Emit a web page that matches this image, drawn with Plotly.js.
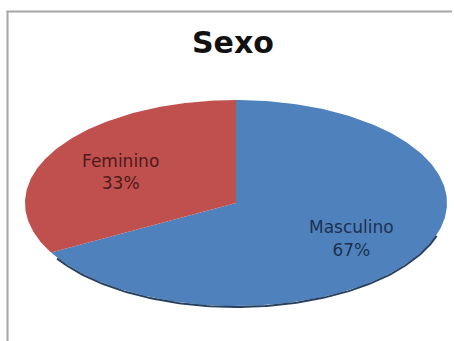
<!DOCTYPE html>
<html>
<head>
<meta charset="utf-8">
<script src="https://cdn.plot.ly/plotly-3.0.1.min.js"></script>
<style>
html,body{margin:0;padding:0;background:#fff;}
#chart{width:454px;height:341px;}
</style>
</head>
<body>
<div id="chart"></div>
<script>
// Data
var categories = ["Masculino", "Feminino"];
var values = [67, 33];
var colors = ["#4f81bd", "#c0504d"];
var textColors = ["#1d3150", "#4e1a19"];
var chartTitle = "Sexo";

// Geometry of the (tilted) pie drawn on pixel-like axes
var W = 454, H = 341;
var cx = 236, cy = 203, rx = 211, ry = 103;
var labelFrac = 0.635;

function pt(deg, f) {
  var a = deg * Math.PI / 180;
  // angle measured clockwise from 12 o'clock
  return [cx + rx * f * Math.sin(a), cy - ry * f * Math.cos(a)];
}

var total = values.reduce(function (s, v) { return s + v; }, 0);
var traces = [];
var labelX = [], labelY = [], labelText = [], labelColor = [];
var start = 0;
for (var i = 0; i < values.length; i++) {
  var sweep = values[i] / total * 360;
  var xs = [cx], ys = [cy];
  var n = Math.max(2, Math.ceil(sweep));
  for (var k = 0; k <= n; k++) {
    var p = pt(start + sweep * k / n, 1);
    xs.push(p[0]); ys.push(p[1]);
  }
  xs.push(cx); ys.push(cy);
  traces.push({
    type: "scatter", mode: "lines", x: xs, y: ys,
    fill: "toself", fillcolor: colors[i],
    line: {width: 0, color: colors[i]},
    hoverinfo: "skip", showlegend: false, name: categories[i]
  });
  var mid = pt(start + sweep / 2, labelFrac);
  labelX.push(mid[0]); labelY.push(mid[1] + 4);
  labelText.push(categories[i] + "<br>" + Math.round(values[i] / total * 100) + "%");
  labelColor.push(textColors[i]);
  start += sweep;
}

// dark rim along lower edge (3D look)
var rimX = [], rimY = [];
for (var d = 108; d <= 238; d += 1) {
  var q = pt(d, 1);
  rimX.push(q[0]); rimY.push(q[1] + 1);
}
traces.push({
  type: "scatter", mode: "lines", x: rimX, y: rimY,
  line: {width: 2, color: "#27405f"}, hoverinfo: "skip", showlegend: false
});

traces.push({
  type: "scatter", mode: "text", x: labelX, y: labelY, text: labelText,
  textposition: "middle center",
  textfont: {family: "DejaVu Sans", size: 17, color: labelColor},
  hoverinfo: "skip", showlegend: false
});

var layout = {
  width: W, height: H,
  margin: {l: 0, r: 0, t: 0, b: 0},
  paper_bgcolor: "#ffffff", plot_bgcolor: "#ffffff",
  title: {
    text: "<b>" + chartTitle + "</b>",
    font: {family: "DejaVu Sans", size: 30, color: "#111111"},
    x: 0.513, xanchor: "center", y: 1 - 42 / H, yanchor: "middle"
  },
  xaxis: {range: [0, W], visible: false, fixedrange: true},
  yaxis: {range: [H, 0], visible: false, fixedrange: true},
  shapes: [
    {type: "line", xref: "x", yref: "y", x0: 7.5, y0: H, x1: 7.5, y1: 11.5,
     line: {color: "#a6a6a6", width: 2}},
    {type: "line", xref: "x", yref: "y", x0: 6.5, y0: 11.5, x1: 452, y1: 11.5,
     line: {color: "#a6a6a6", width: 2}}
  ],
  showlegend: false
};

Plotly.newPlot("chart", traces, layout, {displayModeBar: false, staticPlot: true});
</script>
</body>
</html>
